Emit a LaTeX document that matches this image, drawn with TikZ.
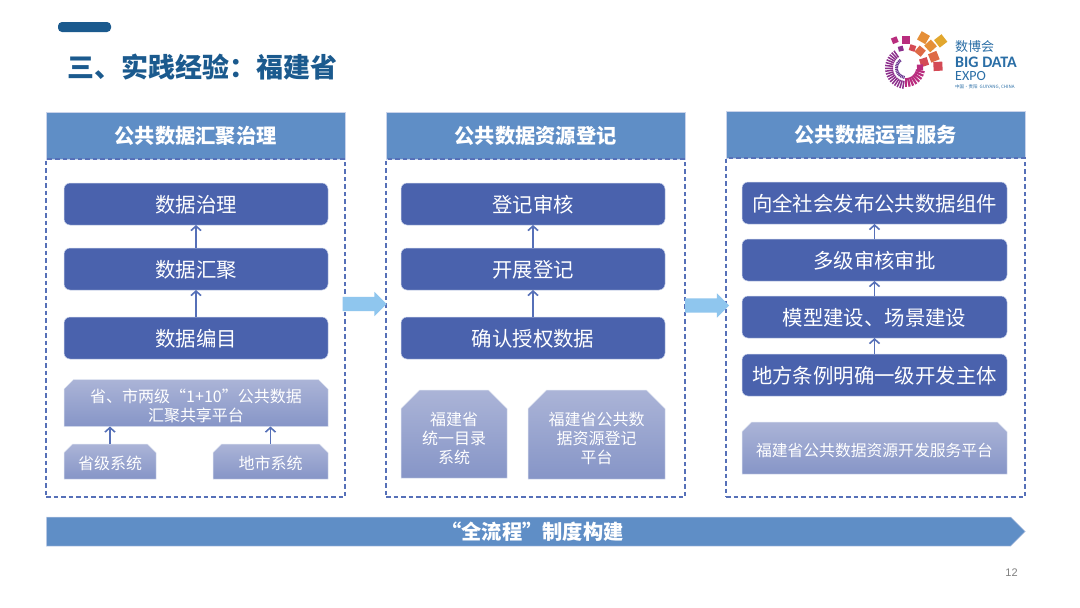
\documentclass[tikz,border=0pt]{standalone}
\usepackage{fontspec}
\setmainfont{Noto Sans CJK SC}
\setsansfont{Liberation Sans}
\newfontfamily\logofont{Carlito}
\usetikzlibrary{arrows.meta,shapes.misc,shapes.arrows,shapes.symbols}
\definecolor{headblue}{HTML}{5F8EC6}
\definecolor{dashblue}{HTML}{5670B8}
\definecolor{darkbox}{HTML}{4A62AD}
\definecolor{edgelight}{HTML}{C9D3EA}
\definecolor{snipTop}{HTML}{ABB4D7}
\definecolor{snipBot}{HTML}{8695C7}
\definecolor{titleblue}{HTML}{1B5A8E}
\definecolor{skyarrow}{HTML}{8FC6EE}
\definecolor{logoblue}{HTML}{2A6EA6}
\definecolor{lgGold}{HTML}{E2A72E}
\definecolor{lgOrange}{HTML}{E58F38}
\definecolor{lgCoral}{HTML}{DE6A45}
\definecolor{lgRed}{HTML}{D44A55}
\definecolor{lgMag}{HTML}{B92D7E}
\definecolor{lgPurple}{HTML}{8C2F8C}
\definecolor{lgDeep}{HTML}{5E3A93}
\newcommand{\fs}[1]{\fontsize{#1}{#1}\selectfont}
\newcommand{\lowr}[2]{\raisebox{-#1}[\height][\depth]{#2}}
\newcommand{\logotile}[4]{\fill[#4,rotate=#2] (#1-#3/2,-#3/2) rectangle (#1+#3/2,#3/2);}
\tikzset{
  x=1pt,y=-1pt,
  headbox/.style={draw=edgelight,line width=0.5pt,fill=headblue,minimum width=299pt,minimum height=47pt,inner sep=0pt,outer sep=0pt,text=white,font=\fs{20.25}\bfseries},
  dashbox/.style={draw=dashblue,line width=1.1pt,dash pattern=on 4.5pt off 3pt,minimum width=299pt,inner sep=0pt,outer sep=0pt},
  darknode/.style={draw=edgelight,line width=0.5pt,fill=darkbox,rounded corners=6pt,minimum height=42pt,inner sep=0pt,outer sep=0pt,text=white,font=\fs{20.4}},
  snipnode/.style={chamfered rectangle,chamfered rectangle corners={north west,north east},chamfered rectangle angle=45,draw=edgelight!60,line width=0.5pt,top color=snipTop,bottom color=snipBot,inner sep=0pt,outer sep=0pt,text=white,font=\fs{16},align=center},
  uparrow/.style={draw=dashblue,line width=1.6pt,-{Straight Barb[length=4.5pt,width=10pt]}},
  blockarrow/.style={single arrow,single arrow head extend=5pt,single arrow tip angle=90,single arrow head indent=0pt,fill=skyarrow,minimum height=44pt,inner xsep=0pt,inner ysep=7pt,outer sep=0pt,draw=none}
}
\begin{document}
\begin{tikzpicture}
\useasboundingbox (0,0) rectangle (1080,608);
\fill[white] (0,0) rectangle (1080,608);
% top marker and title
\fill[titleblue,rounded corners=4pt] (58,22) rectangle (111,32);
\node[anchor=west,inner sep=0pt,text=titleblue,font=\fs{27}\bfseries] (title) at (67,67) {三、实践经验：福建省};
% logo
\begin{scope}[shift={(906,68)},x=1pt,y=1pt]
\logotile{44}{38}{9.5}{lgGold}
\logotile{35}{60}{9.5}{lgOrange}
\logotile{33}{42}{9}{lgOrange}
\logotile{30}{22}{9}{lgCoral}
\logotile{32}{3}{9}{lgRed}
\logotile{28}{90}{8}{lgMag}
\logotile{30}{112}{6}{lgMag}
\logotile{22}{50}{8}{lgCoral}
\logotile{19}{18}{8}{lgRed}
\logotile{21}{72}{6}{lgRed}
\logotile{14}{2}{6}{lgMag}
\logotile{20}{105}{5}{lgPurple}
\foreach \a in {125,133,...,261}{
  \draw[line width=1.5pt,lgPurple] (\a:13) -- (\a:21);
}
\foreach \a in {128,138,...,258}{
  \draw[line width=1.2pt,lgDeep!70!lgPurple] (\a:8) -- (\a:11);
}
\foreach \a in {270,281,...,350}{
  \draw[line width=2.2pt,lgMag] (\a:10) -- (\a:19);
}
\end{scope}
\node[anchor=west,inner sep=0pt,text=logoblue,font=\fs{13}] (logoa) at (955,47) {数博会};
\node[anchor=west,inner sep=0pt,text=logoblue,font=\fs{16}\logofont\bfseries] (logob) at (955,62) {BIG DATA};
\node[anchor=west,inner sep=0pt,text=logoblue,font=\fs{14}\logofont] (logoc) at (955,76) {EXPO};
\node[anchor=west,inner sep=0pt,text=logoblue,font=\fs{4.5}] (logod) at (955,87) {中国·贵阳\ \ GUIYANG, CHINA};
% headers
\node[headbox] (ha) at (195.5,135.5) {公共数据汇聚治理};
\node[headbox] (hb) at (535.5,135.5) {公共数据资源登记};
\node[headbox] (hc) at (875.5,134.5) {\lowr{0.5pt}{公共数据运营服务}};
% dashed frames
\node[dashbox,minimum height=338pt] (fa) at (195.5,328) {};
\node[dashbox,minimum height=338pt] (fb) at (535.5,328) {};
\node[dashbox,minimum height=339pt] (fc) at (875.5,327.5) {};
% column 1
\node[darknode,minimum width=264pt] (a1) at (196,204) {\lowr{1pt}{数据治理}};
\node[darknode,minimum width=264pt] (a2) at (196,269) {\lowr{1pt}{数据汇聚}};
\node[darknode,minimum width=264pt] (a3) at (196,338) {\lowr{1pt}{数据编目}};
\node[snipnode,chamfered rectangle xsep=6pt,minimum width=264pt,minimum height=47pt] (a4) at (196,403) {\lowr{3pt}{省、市两级“1+10”公共数据}\\[3pt]\lowr{3pt}{汇聚共享平台}};
\node[snipnode,chamfered rectangle xsep=5pt,minimum width=92pt,minimum height=35pt] (a5) at (110,461.5) {\lowr{2pt}{省级系统}};
\node[snipnode,chamfered rectangle xsep=5pt,minimum width=115pt,minimum height=35pt] (a6) at (270.5,461.5) {\lowr{2pt}{地市系统}};
\draw[uparrow] (a2.north) -- (a1.south);
\draw[uparrow] (a3.north) -- (a2.south);
\draw[uparrow] (a5.north) -- (a5.north |- a4.south);
\draw[uparrow] (a6.north) -- (a6.north |- a4.south);
% column 2
\node[darknode,minimum width=264pt] (b1) at (533,204) {\lowr{1pt}{登记审核}};
\node[darknode,minimum width=264pt] (b2) at (533,269) {\lowr{1pt}{开展登记}};
\node[darknode,minimum width=264pt] (b3) at (533,338) {\lowr{1pt}{确认授权数据}};
\node[snipnode,chamfered rectangle xsep=15pt,minimum width=106pt,minimum height=88pt] (b4) at (454,434) {\lowr{4pt}{福建省}\\[3pt]\lowr{4pt}{统一目录}\\[3pt]\lowr{4pt}{系统}};
\node[snipnode,chamfered rectangle xsep=15pt,minimum width=137pt,minimum height=89pt] (b5) at (596.5,434.5) {\lowr{4pt}{福建省公共数}\\[3pt]\lowr{4pt}{据资源登记}\\[3pt]\lowr{4pt}{平台}};
\draw[uparrow] (b2.north) -- (b1.south);
\draw[uparrow] (b3.north) -- (b2.south);
% column 3
\node[darknode,minimum width=265pt] (c1) at (874.5,203) {\lowr{1pt}{向全社会发布公共数据组件}};
\node[darknode,minimum width=265pt] (c2) at (874.5,260) {\lowr{1pt}{多级审核审批}};
\node[darknode,minimum width=265pt] (c3) at (874.5,317) {\lowr{1pt}{模型建设、场景建设}};
\node[darknode,minimum width=265pt] (c4) at (874.5,375) {\lowr{1pt}{地方条例明确一级开发主体}};
\node[snipnode,chamfered rectangle xsep=6pt,minimum width=265pt,minimum height=52pt] (c5) at (874.5,448) {\lowr{2pt}{\fs{15.8}福建省公共数据资源开发服务平台}};
\draw[uparrow] (c2.north) -- (c1.south);
\draw[uparrow] (c3.north) -- (c2.south);
\draw[uparrow] (c4.north) -- (c3.south);
% block arrows
\node[blockarrow] (ab) at (361,304) {};
\node[blockarrow] (bc) at (703.5,305.5) {};
% bottom bar
\node[signal,signal to=east,signal pointer angle=90,draw=edgelight,line width=0.5pt,fill=headblue,minimum width=979pt,minimum height=29pt,inner sep=0pt,outer sep=0pt,text=white,font=\fs{20.25}\bfseries] (bar) at (528.5,531.5) {\hspace*{8pt}“全流程”制度构建};
% page number
\node[inner sep=0pt,text=black!50,font=\fs{11}\sffamily] (page) at (1011.5,573) {12};
\end{tikzpicture}
\end{document}
